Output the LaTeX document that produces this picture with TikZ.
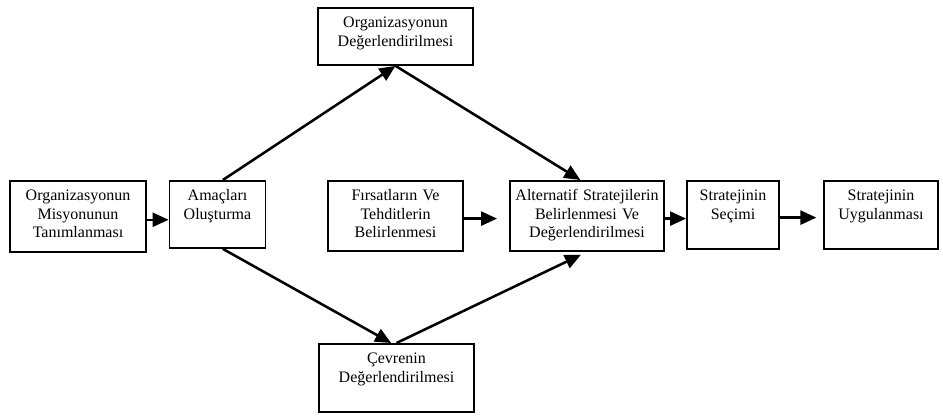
\documentclass[tikz,border=0pt]{standalone}
\usepackage{fontspec}
\setmainfont{Liberation Serif}
\usetikzlibrary{arrows.meta}

\begin{document}
\begin{tikzpicture}[x=0.75pt, y=-0.75pt,
    stage/.style={draw, line width=1.4pt, align=center, anchor=north, inner xsep=0pt, inner ysep=6pt,
        text height=9pt, font=\fontsize{12pt}{13.8pt}\selectfont},
    size/.style 2 args={text width=#1, text depth=#2},
    flow/.style={-{Triangle[length=12pt, width=10.5pt]}, line width=1.9pt}]
    \useasboundingbox (0,0) rectangle (943,415);

    % Main row
    \node[stage, size={102pt}{32.25pt}] (mis) at (78,180) {Organizasyonun\\Misyonunun\\Tanımlanması};
    \node[stage, size={72pt}{29.25pt}] (ama) at (217.5,180) {Amaçları\\Oluşturma};
    \node[stage, size={101.25pt}{31.5pt}] (fir) at (395.5,180) {Fırsatların Ve\\Tehditlerin\\Belirlenmesi};
    \node[stage, size={115.5pt}{31.5pt}] (alt) at (587,180) {Alternatif Stratejilerin\\Belirlenmesi Ve\\Değerlendirilmesi};
    \node[stage, size={69pt}{30pt}] (sec) at (733,180) {Stratejinin\\Seçimi};
    \node[stage, size={85.5pt}{30pt}] (uyg) at (881,180) {Stratejinin\\Uygulanması};

    % Upper and lower branch
    \node[stage, size={116.25pt}{21.75pt}] (org) at (395.5,7) {Organizasyonun\\Değerlendirilmesi};
    \node[stage, size={116.25pt}{30pt}] (cev) at (396.5,343) {Çevrenin\\Değerlendirilmesi};

    % Arrows
    \draw[flow] ([yshift=-2.5pt]mis.east) -- ([yshift=-2.5pt]mis.east -| ama.west);
    \draw[flow] ([xshift=4pt]ama.north) -- (org.south);
    \draw[flow] (org.south) -- ([xshift=-5pt]alt.north);
    \draw[flow] ([xshift=4pt]ama.south) -- ([xshift=-4pt]cev.north);
    \draw[flow, shorten >=5pt] (cev.north) -- (alt.south);
    \draw[flow, shorten >=9pt] ([yshift=-2pt]fir.east) -- ([yshift=-2pt]fir.east -| alt.west);
    \draw[flow] ([yshift=-2pt]alt.east) -- ([yshift=-2pt]alt.east -| sec.west);
    \draw[flow, shorten >=5pt] ([yshift=-2pt]sec.east) -- ([yshift=-2pt]sec.east -| uyg.west);
\end{tikzpicture}
\end{document}
